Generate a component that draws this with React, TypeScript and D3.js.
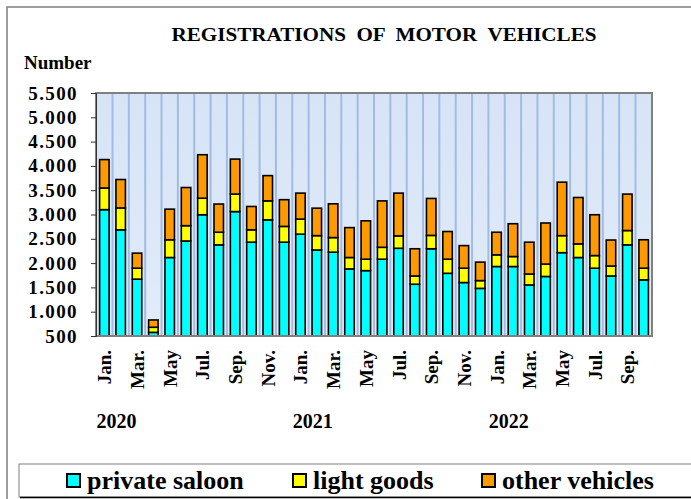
import { FC, useEffect, useRef } from "react";
import * as d3 from "d3";

const W = 691, H = 499;

const monthNames = ["Jan.", "Feb.", "Mar.", "Apr.", "May", "Jun.", "Jul.", "Aug.", "Sep.", "Oct.", "Nov.", "Dec."];
const years = ["2020", "2021", "2022"];
const monthCount = 34; // Jan 2020 .. Oct 2022

const privateSaloon = [3100, 2685, 1670, 575, 2115, 2455, 2995, 2375, 3060, 2430, 2890, 2430,
  2595, 2270, 2225, 1880, 1845, 2080, 2305, 1565, 2295, 1790, 1600, 1480,
  1930, 1930, 1550, 1725, 2215, 2115, 1895, 1735, 2375, 1655];
const lightGoods = [445, 450, 225, 105, 365, 315, 340, 260, 360, 255, 390, 325,
  310, 295, 300, 235, 235, 245, 255, 170, 275, 290, 295, 160,
  240, 205, 225, 255, 350, 280, 260, 205, 295, 240];
const otherVehicles = [585, 585, 310, 150, 630, 785, 895, 580, 720, 480, 520, 550,
  535, 565, 695, 615, 790, 955, 880, 560, 760, 570, 465, 380,
  465, 675, 655, 845, 1100, 955, 840, 535, 750, 585];

const seriesNames = ["private saloon", "light goods", "other vehicles"];
const seriesColors = ["#00ffff", "#ffff00", "#ff9900"];
const yTicks = [500, 1000, 1500, 2000, 2500, 3000, 3500, 4000, 4500, 5000, 5500];

const font = "'Liberation Serif', 'Times New Roman', serif";

const App: FC = () => {
  const ref = useRef<SVGSVGElement>(null);

  useEffect(() => {
    const svg = d3.select(ref.current);
    svg.selectAll("*").remove();

    const plot = { left: 96, right: 652, top: 93, bottom: 336 };

    const rows = d3.range(monthCount).map((i) => ({
      key: String(i),
      "private saloon": privateSaloon[i],
      "light goods": lightGoods[i],
      "other vehicles": otherVehicles[i],
    }));

    const x = d3.scaleBand<string>()
      .domain(rows.map((d) => d.key))
      .range([plot.left, plot.right])
      .paddingInner(0.42)
      .paddingOuter(0.22);

    const y = d3.scaleLinear().domain([500, 5500]).range([plot.bottom, plot.top]);

    const stack = d3.stack<any>().keys(seriesNames)(rows);

    const defs = svg.append("defs");
    const grad = defs.append("linearGradient").attr("id", "bg").attr("x1", 0).attr("y1", 0).attr("x2", 0).attr("y2", 1);
    grad.append("stop").attr("offset", "0%").attr("stop-color", "#d6e4f6");
    grad.append("stop").attr("offset", "100%").attr("stop-color", "#e2ecf9");

    // outer frame
    svg.append("rect")
      .attr("x", 7).attr("y", 7).attr("width", 700).attr("height", 510)
      .attr("fill", "white").attr("stroke", "#7f7f7f").attr("stroke-width", 1.5);

    // title
    svg.append("text")
      .attr("x", 384).attr("y", 41)
      .attr("text-anchor", "middle")
      .style("font-family", font).style("font-weight", "bold").style("font-size", "19px")
      .style("white-space", "pre")
      .attr("textLength", 425).attr("lengthAdjust", "spacingAndGlyphs")
      .text("REGISTRATIONS  OF  MOTOR  VEHICLES");

    svg.append("text")
      .attr("x", 24).attr("y", 69)
      .style("font-family", font).style("font-weight", "bold").style("font-size", "19px")
      .text("Number");

    // plot background
    svg.append("rect")
      .attr("x", plot.left).attr("y", plot.top)
      .attr("width", plot.right - plot.left).attr("height", plot.bottom - plot.top)
      .attr("fill", "url(#bg)");

    // vertical grid lines between bars
    const step = x.step();
    d3.range(1, monthCount).forEach((i) => {
      const gx = (x(String(i)) as number) - (step - x.bandwidth()) / 2;
      svg.append("line")
        .attr("x1", gx).attr("x2", gx)
        .attr("y1", plot.top).attr("y2", plot.bottom)
        .attr("stroke", "#a3bbe4").attr("stroke-width", 2);
    });

    // bars
    stack.forEach((layer, si) => {
      svg.append("g")
        .selectAll("rect")
        .data(layer)
        .join("rect")
        .attr("x", (d: any) => x(d.data.key) as number)
        .attr("width", x.bandwidth())
        .attr("y", (d) => y(Math.max(500, d[1])))
        .attr("height", (d) => y(Math.max(500, d[0])) - y(Math.max(500, d[1])))
        .attr("fill", seriesColors[si])
        .attr("stroke", "black")
        .attr("stroke-width", 1.6);
    });

    // frame
    svg.append("rect")
      .attr("x", plot.left).attr("y", plot.top)
      .attr("width", plot.right - plot.left).attr("height", plot.bottom - plot.top)
      .attr("fill", "none").attr("stroke", "#808080").attr("stroke-width", 2);

    // y axis
    const yAxis = svg.append("g")
      .attr("transform", `translate(${plot.left},0)`)
      .call(d3.axisLeft(y).tickValues(yTicks).tickSize(5).tickPadding(13)
        .tickFormat((d) => d3.format(",")(d as number).replace(",", ".")));
    yAxis.select(".domain").attr("stroke", "#333").attr("stroke-width", 1);
    yAxis.selectAll(".tick line").attr("stroke", "#333");
    yAxis.selectAll("text")
      .attr("fill", "black")
      .style("font-family", font).style("font-weight", "bold").style("font-size", "19px")
      .style("letter-spacing", "1.4px");

    // x labels
    rows.forEach((d, i) => {
      if (i % 2 !== 0) return;
      const cx = (x(d.key) as number) + x.bandwidth() / 2 + 7;
      svg.append("text")
        .attr("transform", `translate(${cx},350) rotate(-90)`)
        .attr("text-anchor", "end")
        .style("font-family", font).style("font-weight", "bold").style("font-size", "19px")
        .text(monthNames[i % 12]);
    });

    years.forEach((yr, k) => {
      svg.append("text")
        .attr("x", (x(String(k * 12)) as number) - 3).attr("y", 428)
        .style("font-family", font).style("font-weight", "bold").style("font-size", "20px")
        .text(yr);
    });

    // legend
    svg.append("rect")
      .attr("x", 19).attr("y", 464).attr("width", 700).attr("height", 33)
      .attr("fill", "white").attr("stroke", "#808080").attr("stroke-width", 1);
    svg.append("line")
      .attr("x1", 20).attr("x2", 700).attr("y1", 497.5).attr("y2", 497.5)
      .attr("stroke", "black").attr("stroke-width", 1.5);

    const legendX = [67, 293, 482];
    seriesNames.forEach((name, i) => {
      svg.append("rect")
        .attr("x", legendX[i]).attr("y", 474).attr("width", 13).attr("height", 13)
        .attr("fill", seriesColors[i]).attr("stroke", "black").attr("stroke-width", 2);
      svg.append("text")
        .attr("x", legendX[i] + 20).attr("y", 489)
        .style("font-family", font).style("font-weight", "bold").style("font-size", "26px")
        .text(name);
    });
  }, []);

  return (
    <svg ref={ref} width={W} height={H}
      style={{ position: "absolute", left: 0, top: 0, background: "white" }} />
  );
};

export default App;
